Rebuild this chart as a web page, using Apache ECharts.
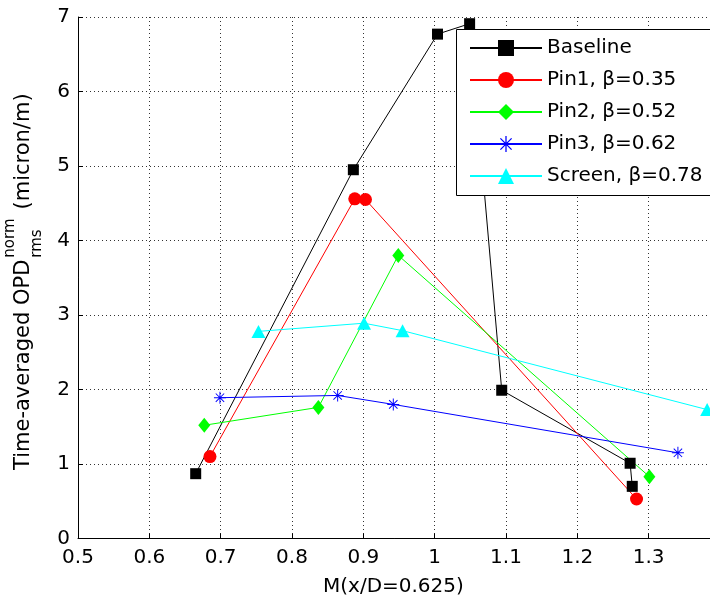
<!DOCTYPE html>
<html>
<head>
<meta charset="utf-8">
<script src="https://cdn.jsdelivr.net/npm/echarts@6.0.0/dist/echarts.min.js"></script>
<style>
  html, body { margin: 0; padding: 0; background: #fff; }
  #chart { width: 710px; height: 600px; }
</style>
</head>
<body>
<div id="chart"></div>
<script>
// Measurements: M at x/D = 0.625 vs. time-averaged normalized rms OPD
const seriesNames = ['Baseline', 'Pin1, \u03b2=0.35', 'Pin2, \u03b2=0.52', 'Pin3, \u03b2=0.62', 'Screen, \u03b2=0.78'];

const baselineX = [0.665, 0.886, 1.004, 1.049, 1.094, 1.274, 1.277];
const baselineY = [0.87, 4.95, 6.77, 6.91, 1.99, 1.01, 0.70];

const pin1X = [0.685, 0.888, 0.903, 1.283];
const pin1Y = [1.10, 4.56, 4.55, 0.53];

const pin2X = [0.677, 0.837, 0.949, 1.301];
const pin2Y = [1.52, 1.76, 3.80, 0.83];

const pin3X = [0.699, 0.864, 0.942, 1.341];
const pin3Y = [1.89, 1.92, 1.80, 1.15];

const screenX = [0.753, 0.901, 0.955, 1.382];
const screenY = [2.78, 2.89, 2.79, 1.73];

const xMin = 0.5, xMax = 1.4, xStep = 0.1;
const yMin = 0, yMax = 7, yStep = 1;
const xTitle = 'M(x/D=0.625)';
const yTitleMain = 'Time-averaged OPD';
const yTitleSup = 'norm';
const yTitleSub = 'rms';
const yTitleUnit = '(micron/m)';

const FONT = '"DejaVu Sans", "Liberation Sans", Arial, sans-serif';

// asterisk marker built from four thin bars
const asterisk = 'path://M46 0L54 0L54 100L46 100Z M0 46L100 46L100 54L0 54Z ' +
  'M17.8 12.2L87.8 82.2L82.2 87.8L12.2 17.8Z M82.2 12.2L87.8 17.8L17.8 87.8L12.2 82.2Z';

function zip(xs, ys) { return xs.map((x, i) => [x, ys[i]]); }

function lineSeries(name, xs, ys, color, symbol, size) {
  return {
    type: 'line',
    name: name,
    data: zip(xs, ys),
    symbol: symbol,
    symbolSize: size,
    showAllSymbol: true,
    clip: false,
    lineStyle: { color: color, width: 1 },
    itemStyle: { color: color, borderWidth: 0 },
    emphasis: { disabled: true },
    z: 3
  };
}

// measure text for the composite y-axis title
const ctx = document.createElement('canvas').getContext('2d');
function textWidth(str, size) {
  ctx.font = size + 'px ' + FONT;
  return ctx.measureText(str).width;
}
const bigSize = 21, smallSize = 15;
const wMain = textWidth(yTitleMain, bigSize);
const wSmall = Math.max(textWidth(yTitleSup, smallSize), textWidth(yTitleSub, smallSize));

// legend box geometry (the frame continues past the right edge)
const legendLeft = 456, legendTop = 29;
const legendPad = [9, 40, 9, 13];
const legendItemH = 20, legendGap = 12;
const legendHeight = legendPad[0] + legendPad[2] + seriesNames.length * legendItemH + (seriesNames.length - 1) * legendGap;

const chart = echarts.init(document.getElementById('chart'), null, { renderer: 'canvas' });

chart.setOption({
  animation: false,
  backgroundColor: '#fff',
  // the plot area runs on past the right edge of the canvas
  grid: { left: 78, top: 17, width: 642, height: 521.5, outerBoundsMode: 'none', containLabel: false },
  xAxis: {
    type: 'value',
    min: xMin, max: xMax, interval: xStep,
    axisLine: { show: true, lineStyle: { color: '#000', width: 1 } },
    axisTick: { show: true, inside: true, length: 5, lineStyle: { color: '#000' } },
    axisLabel: {
      color: '#000', fontFamily: FONT, fontSize: 20, margin: 9,
      formatter: v => (v > xMax - xStep / 2 ? '' : String(+v.toFixed(1)))
    },
    splitLine: { show: true, lineStyle: { color: '#000', width: 1, type: [1, 3], opacity: 0.8 } }
  },
  yAxis: {
    type: 'value',
    min: yMin, max: yMax, interval: yStep,
    axisLine: { show: true, lineStyle: { color: '#000', width: 1 } },
    axisTick: { show: true, inside: true, length: 5, lineStyle: { color: '#000' } },
    axisLabel: { color: '#000', fontFamily: FONT, fontSize: 20, margin: 8 },
    splitLine: { show: true, lineStyle: { color: '#000', width: 1, type: [1, 3], opacity: 0.8 } }
  },
  legend: {
    orient: 'vertical',
    left: legendLeft, top: legendTop,
    padding: legendPad,
    backgroundColor: '#fff',
    borderWidth: 0,
    itemWidth: 72,
    itemHeight: legendItemH,
    itemGap: legendGap,
    selectedMode: false,
    textStyle: { color: '#000', fontFamily: FONT, fontSize: 20 },
    data: seriesNames
  },
  series: [
    lineSeries(seriesNames[0], baselineX, baselineY, '#000000', 'rect', 11),
    lineSeries(seriesNames[1], pin1X, pin1Y, '#ff0000', 'circle', 13),
    lineSeries(seriesNames[2], pin2X, pin2Y, '#00ff00', 'diamond', [12, 15]),
    lineSeries(seriesNames[3], pin3X, pin3Y, '#0000ff', asterisk, 12),
    lineSeries(seriesNames[4], screenX, screenY, '#00ffff', 'triangle', [14, 13])
  ],
  graphic: [
    {
      type: 'rect',
      z: 50,
      shape: { x: legendLeft + 0.5, y: legendTop + 0.5, width: 400, height: legendHeight },
      style: { fill: null, stroke: '#000', lineWidth: 1 }
    },
    {
      type: 'text',
      left: 323, top: 577,
      style: { text: xTitle, font: '20px ' + FONT, fill: '#000' }
    },
    {
      type: 'group',
      x: 24, y: 470,
      rotation: Math.PI / 2,
      children: [
        { type: 'text', x: 0, y: 0,
          style: { text: yTitleMain, font: bigSize + 'px ' + FONT, fill: '#000', align: 'left', verticalAlign: 'middle' } },
        { type: 'text', x: wMain + 2, y: -14,
          style: { text: yTitleSup, font: smallSize + 'px ' + FONT, fill: '#000', align: 'left', verticalAlign: 'middle' } },
        { type: 'text', x: wMain + 2, y: 13,
          style: { text: yTitleSub, font: smallSize + 'px ' + FONT, fill: '#000', align: 'left', verticalAlign: 'middle' } },
        { type: 'text', x: wMain + 2 + wSmall + 9, y: 0,
          style: { text: yTitleUnit, font: bigSize + 'px ' + FONT, fill: '#000', align: 'left', verticalAlign: 'middle' } }
      ]
    }
  ]
});
</script>
</body>
</html>
